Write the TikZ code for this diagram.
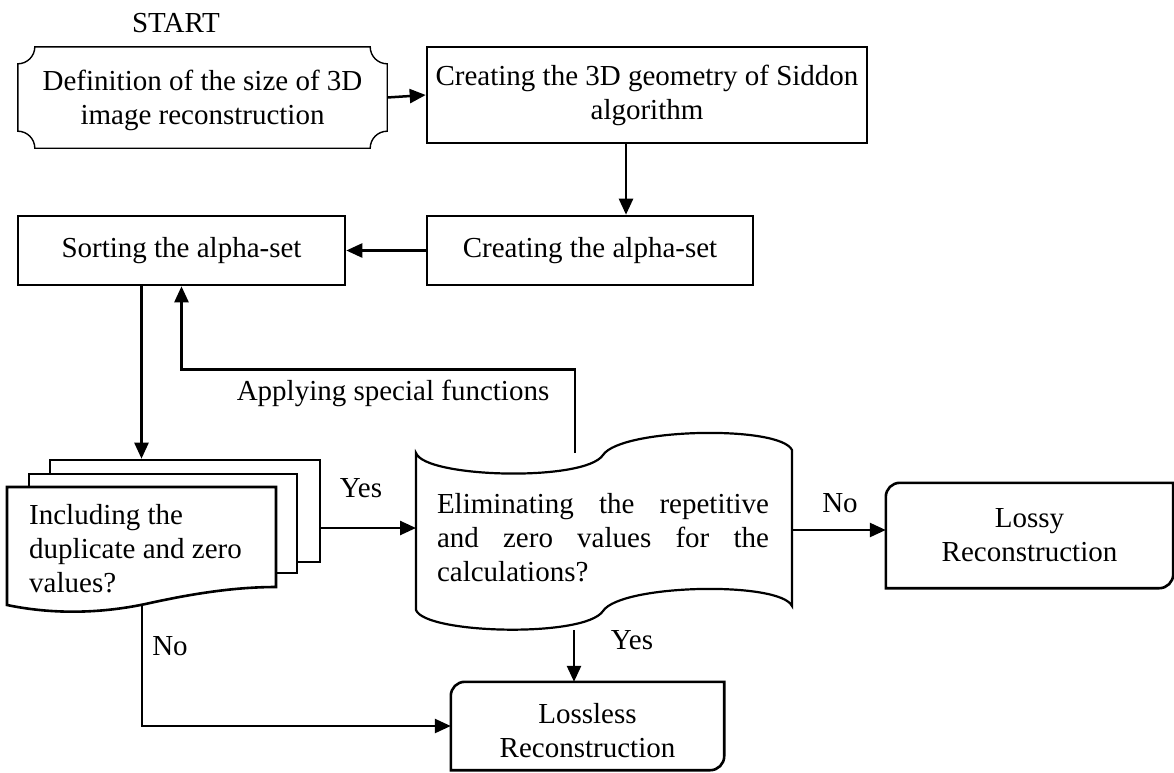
\documentclass[tikz,border=0pt]{standalone}
\usepackage{fontspec}
\setmainfont{Liberation Serif}
\usetikzlibrary{arrows.meta,calc}
\begin{document}
\begin{tikzpicture}[x=1pt,y=-1pt,
  txt/.style={font=\fontsize{29}{34}\selectfont, inner sep=0pt},
  box/.style={txt, draw, line width=2.6pt, align=center},
  ln/.style={line width=2.6pt},
  arr/.style={line width=2.5pt, -{Triangle[length=16pt,width=14pt]}},
  page/.style={draw, fill=white, line width=2.6pt, inner sep=0pt}]
\useasboundingbox (0,0) rectangle (1174,772);

% START box (plaque)
\node[txt] (startlbl) at (176,23) {START};
\node[txt, align=center, minimum width=369pt, minimum height=101pt] (start) at (202.5,97.5) {\rule{0pt}{26pt}Definition of the size of 3D\\image reconstruction};
\draw[line width=1.4pt] ([xshift=17pt]start.north west) -- ([xshift=-17pt]start.north east)
  arc[start angle=180,end angle=270,radius=17pt] -- ([yshift=17pt]start.south east)
  arc[start angle=90,end angle=180,radius=17pt] -- ([xshift=17pt]start.south west)
  arc[start angle=0,end angle=90,radius=17pt] -- ([yshift=-17pt]start.north west)
  arc[start angle=270,end angle=360,radius=17pt] -- cycle;

% process boxes
\node[box, minimum width=440pt, minimum height=96pt] (geo) at (647,95) {Creating the 3D geometry of Siddon\\algorithm};
\node[box, minimum width=326pt, minimum height=69pt] (alpha) at (590,250.5) {Creating the alpha-set};
\node[box, minimum width=327pt, minimum height=69pt] (sort) at (181.5,250.5) {Sorting the alpha-set};

% multi-document
\node[page, minimum width=270pt, minimum height=102pt] (pA) at (185,511) {};
\node[page, minimum width=268pt, minimum height=99pt] (pB) at (163,523.5) {};
\draw[line width=2.6pt, fill=white] (7,487) -- (276,487) -- (276,587)
  .. controls (240,587) and (200,592) .. (150,603)
  .. controls (110,612) and (60,616) .. (7,605) -- cycle;
\node[txt, align=left, anchor=west] (incl) at (29,549) {Including the\\duplicate and zero\\values?};

% tape
\draw[line width=2.2pt, fill=white] (416,453) .. controls (425,478) and (585,482) .. (603,455)
  .. controls (621,428) and (780,425) .. (792,450) -- (792,606)
  .. controls (780,581) and (621,584) .. (603,611)
  .. controls (585,638) and (425,634) .. (416,610) -- cycle;
\node[txt, text width=332pt, align=justify] (elim) at (603,538) {Eliminating the repetitive\linebreak and zero values for the\linebreak calculations?};
\coordinate (tapeW) at (416,528);
\coordinate (tapeE) at (792,530);
\coordinate (tapeT) at (575,453);
\coordinate (tapeB) at (574,630);

% terminal boxes
\node[txt, align=center, minimum width=287pt, minimum height=105pt] (lossy) at (1029.5,535.5) {Lossy\\Reconstruction};
\draw[ln] (lossy.north east) -- ([xshift=14pt]lossy.north west)
  arc[start angle=90,end angle=180,radius=14pt] -- (lossy.south west)
  -- ([xshift=-14pt]lossy.south east) arc[start angle=270,end angle=360,radius=14pt] -- cycle;
\node[txt, align=center, minimum width=273pt, minimum height=88pt] (lossless) at (587.5,726) {\rule{0pt}{30pt}Lossless\\Reconstruction};
\draw[ln] (lossless.north east) -- ([xshift=14pt]lossless.north west)
  arc[start angle=90,end angle=180,radius=14pt] -- (lossless.south west)
  -- ([xshift=-14pt]lossless.south east) arc[start angle=270,end angle=360,radius=14pt] -- cycle;

% labels
\node[txt] (yes1) at (361,488) {Yes};
\node[txt] (no1) at (840,503) {No};
\node[txt] (yes2) at (632,640) {Yes};
\node[txt] (no2) at (170,646) {No};
\node[txt] (apply) at (393,393) {Applying special functions};

% connectors
\draw[arr] (start.east) -- (geo.west);
\draw[arr] ([xshift=-21pt]geo.south) -- ([xshift=-21pt]geo.south |- alpha.north);
\draw[arr] (alpha.west) -- (sort.east);
\draw[arr] ([xshift=-40pt]sort.south) -- ([xshift=-40pt]sort.south |- pA.north);
\draw[arr] (tapeT) |- ([yshift=-83pt]sort.south) -- (sort.south);
\draw[arr] (pA.east |- tapeW) -- (tapeW);
\draw[arr] (tapeE) -- (tapeE -| lossy.west);
\draw[arr] (tapeB) -- (tapeB |- lossless.north);
\coordinate (docB) at (142,604);
\draw[arr] (docB) |- (lossless.west);
\end{tikzpicture}
\end{document}
